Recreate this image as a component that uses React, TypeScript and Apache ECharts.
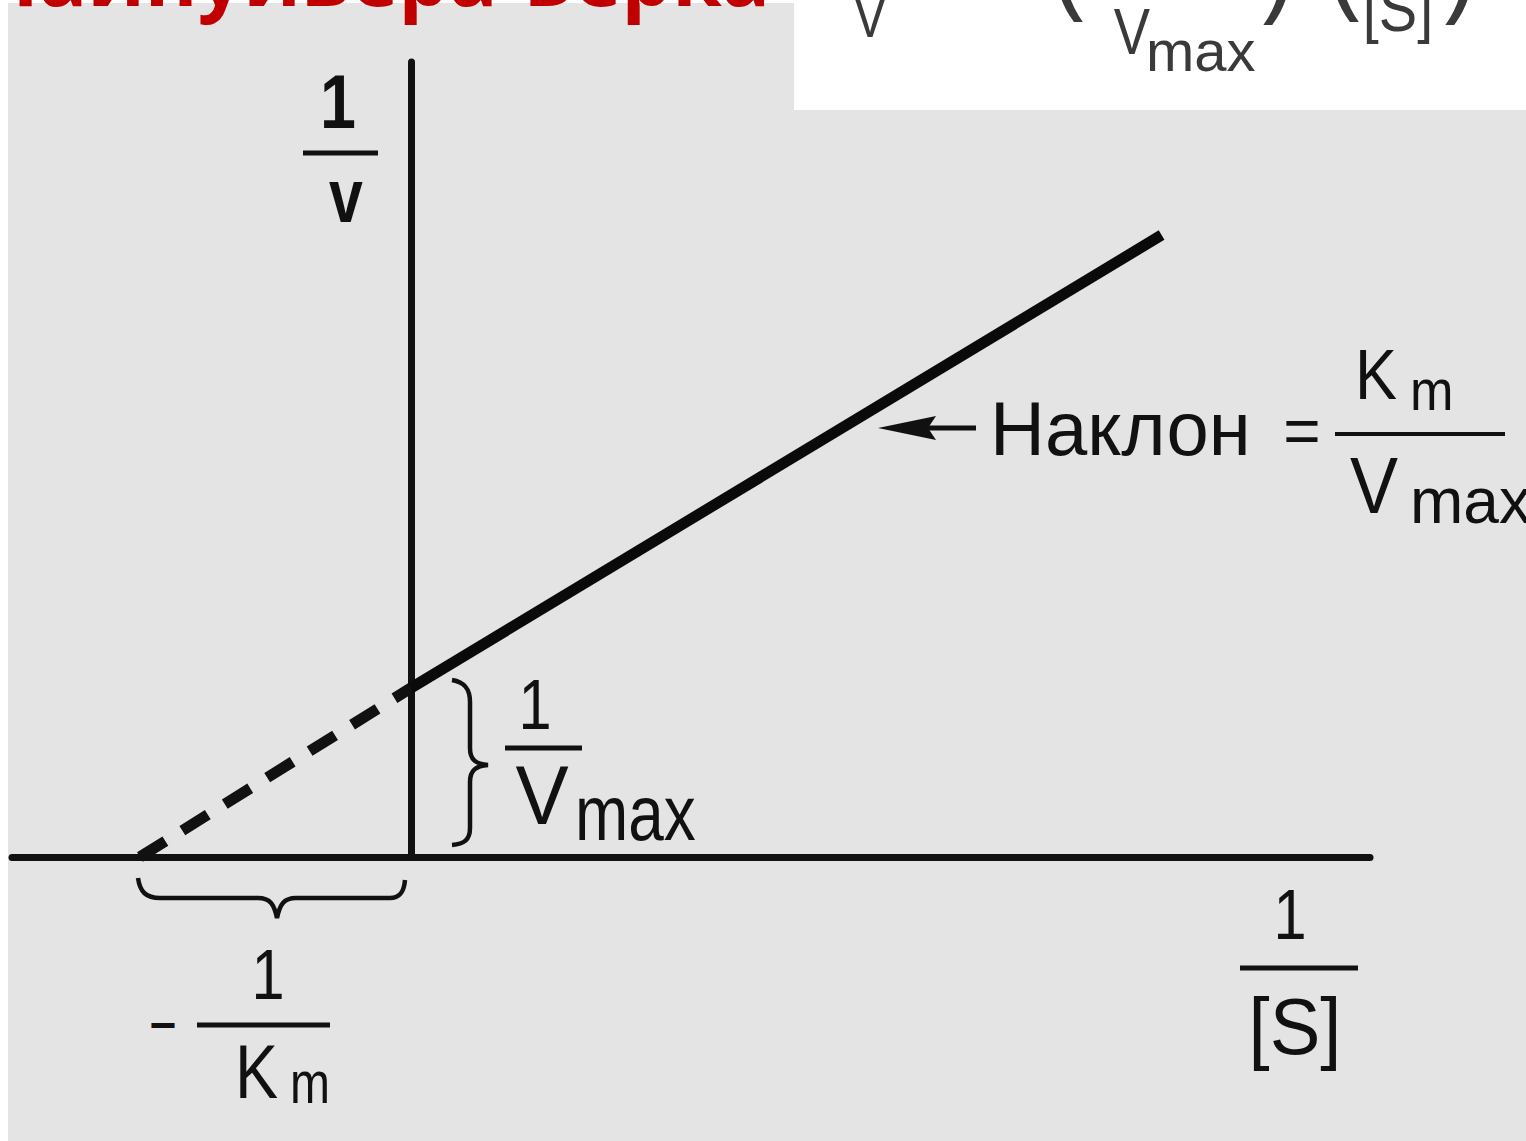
import React, { useEffect, useRef } from "react";
import * as echarts from "echarts";

// ---- data ----
const xRange = [-1.472, 3.539]; // 1/[S]
const yRange = [0, 4.704]; // 1/v
const solidLine = [
  [0, 1],
  [2.77, 3.68],
];
const dashedLine = [
  [-1, 0],
  [0, 1],
];
const titleText = ["Лайнуивера-Берка"];
const yLabel = ["1", "v"];
const xLabel = ["1", "[S]"];
const kmLabel = ["−", "1", "K", "m"];
const vmaxLabel = ["1", "V", "max"];
const slopeLabel = ["Наклон", "=", "K", "m", "V", "max"];
const formulaParts = ["V", "(", "V", "max", ")", "(", "[S]", ")"];

const HBRACE =
  "M0,0 C2,14 8,20 22,20 L120,20 C132,20 136,26 139,40 C142,26 146,20 158,20 L252,20 C262,20 266,14 267,2";
const VBRACE =
  "M0,0 C12,2 18,8 18,22 L18,68 C18,80 24,84 36,85 C24,86 18,90 18,102 L18,148 C18,160 12,164 0,165";

let registered = false;
function registerShapes() {
  if (registered) return;
  echarts.graphic.registerShape("hbrace", echarts.graphic.extendPath(HBRACE, {}) as any);
  echarts.graphic.registerShape("vbrace", echarts.graphic.extendPath(VBRACE, {}) as any);
  registered = true;
}

const FONT = "'Liberation Sans', Arial, sans-serif";
const INK = "#111111";

function t(text: string, x: number, y: number, fs: number, o: any = {}) {
  return {
    type: "text",
    x,
    y,
    scaleX: o.sx ?? 1,
    z: 10,
    style: {
      text,
      fontSize: fs,
      fontFamily: o.ff ?? FONT,
      fontWeight: o.fw ?? "normal",
      fill: o.fill ?? INK,
      align: o.align ?? "center",
      verticalAlign: "middle",
    },
  };
}
function hl(x1: number, x2: number, y: number, w: number, c = INK) {
  return {
    type: "line",
    z: 10,
    shape: { x1, y1: y, x2, y2: y },
    style: { stroke: c, lineWidth: w },
  };
}

export default function App() {
  const ref = useRef<HTMLDivElement>(null);
  useEffect(() => {
    if (!ref.current) return;
    registerShapes();
    const chart = echarts.init(ref.current, undefined, { renderer: "svg" });
    const FG = "#3a3a3a";
    const graphic: any[] = [
      // red title (clipped at top, as in the reference)
      t(titleText[0], 770, -26, 80, { ff: "'Open Sans', sans-serif", fw: "bold", fill: "#c00000", align: "right" }),
      // formula in white box (only bottom parts visible)
      t(formulaParts[0], 870, 15, 62, { fill: FG, sx: 0.8 }),
      t(formulaParts[1], 1066, -50, 130, { fill: FG, sx: 0.8 }),
      t(formulaParts[2], 1132, 32, 64, { fill: FG, sx: 0.85 }),
      t(formulaParts[3], 1146, 50, 58, { fill: FG, align: "left" }),
      t(formulaParts[4], 1280, -47, 130, { fill: FG, sx: 0.8 }),
      t(formulaParts[5], 1342, -50, 130, { fill: FG, sx: 0.8 }),
      t(formulaParts[6], 1398, 9, 64, { fill: FG, sx: 0.9 }),
      t(formulaParts[7], 1462, -47, 130, { fill: FG, sx: 0.8 }),
      // y label 1/v
      t(yLabel[0], 338, 102, 76, { fw: "bold", sx: 0.85 }),
      hl(303, 378, 153, 5),
      t(yLabel[1], 346, 196, 76, { fw: "bold", sx: 0.8 }),
      // x label 1/[S]
      t(xLabel[0], 1290, 915, 70, { sx: 0.85 }),
      hl(1240, 1358, 968, 5),
      t(xLabel[1], 1295, 1026, 80, { sx: 0.95 }),
      // -1/Km
      t(kmLabel[0], 163, 1025, 46, { fw: "bold" }),
      t(kmLabel[1], 268, 975, 70, { sx: 0.85 }),
      hl(197, 330, 1025, 5),
      t(kmLabel[2], 235, 1072, 76, { align: "left", sx: 0.85 }),
      t(kmLabel[3], 290, 1083, 60, { align: "left", sx: 0.8 }),
      // 1/Vmax
      t(vmaxLabel[0], 535, 705, 70, { sx: 0.85 }),
      hl(505, 582, 748, 5),
      t(vmaxLabel[1], 542, 795, 84, { sx: 0.95 }),
      t(vmaxLabel[2], 575, 813, 77, { align: "left", sx: 0.83 }),
      // slope annotation
      {
        type: "polygon",
        z: 10,
        shape: { points: [[878, 428], [936, 416], [928, 428], [936, 440]] },
        style: { fill: INK },
      },
      hl(925, 976, 428, 5),
      t(slopeLabel[0], 990, 428, 76, { align: "left" }),
      t(slopeLabel[1], 1302, 431, 64),
      hl(1335, 1505, 434, 4),
      t(slopeLabel[2], 1355, 375, 70, { align: "left", sx: 0.9 }),
      t(slopeLabel[3], 1410, 390, 58, { align: "left", sx: 0.9 }),
      t(slopeLabel[4], 1350, 485, 80, { align: "left", sx: 0.9 }),
      t(slopeLabel[5], 1410, 501, 64, { align: "left" }),
      // braces
      { type: "hbrace", x: 138, y: 878, z: 10, style: { fill: "none", stroke: INK, lineWidth: 4.5 } },
      { type: "vbrace", x: 452, y: 680, z: 10, style: { fill: "none", stroke: INK, lineWidth: 4.5 } },
    ];

    const axisCommon = {
      type: "value",
      axisLine: { show: true, onZero: true, lineStyle: { color: INK, width: 7 } },
      axisTick: { show: false },
      axisLabel: { show: false },
      splitLine: { show: false },
    };

    chart.setOption({
      animation: false,
      grid: { left: 12, right: 156, top: 62, bottom: 284 },
      xAxis: { ...axisCommon, min: xRange[0], max: xRange[1] },
      yAxis: { ...axisCommon, min: yRange[0], max: yRange[1] },
      series: [
        {
          type: "line",
          data: solidLine,
          symbol: "none",
          z: 3,
          lineStyle: { color: "#0a0a0a", width: 11 },
        },
        {
          type: "line",
          data: dashedLine,
          symbol: "none",
          z: 3,
          lineStyle: { color: INK, width: 11, type: [30, 20] },
        },
      ],
      graphic,
    });
    return () => chart.dispose();
  }, []);

  return (
    <div style={{ position: "absolute", left: 0, top: 0, width: 1526, height: 1141, background: "#ffffff", overflow: "hidden" }}>
      <div style={{ position: "absolute", left: 8, top: 3, width: 1518, height: 1138, background: "#e4e4e4" }} />
      <div style={{ position: "absolute", left: 794, top: 0, width: 732, height: 110, background: "#ffffff" }} />
      <div ref={ref} style={{ position: "absolute", left: 0, top: 0, width: 1526, height: 1141 }} />
    </div>
  );
}
